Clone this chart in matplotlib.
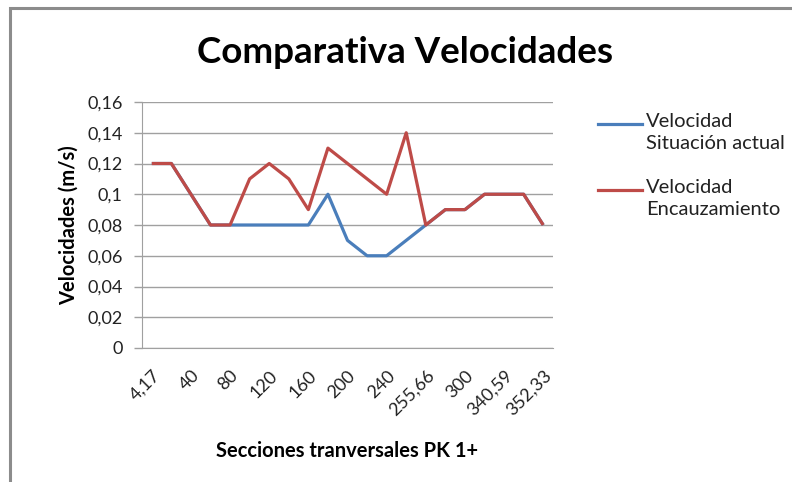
import matplotlib
matplotlib.use("Agg")
import matplotlib.pyplot as plt
from matplotlib.patches import Rectangle
from matplotlib.lines import Line2D

plt.rcParams['font.family'] = ['Lato', 'DejaVu Sans']

# Cross sections (PK 1+); only every other one is labelled on the axis
secciones = ["4,17", "20", "40", "60", "80", "100", "120", "140", "160", "180",
             "200", "220", "240", "250", "255,66", "280", "300", "320",
             "340,59", "350", "352,33"]
vel_actual = [0.12, 0.12, 0.10, 0.08, 0.08, 0.08, 0.08, 0.08, 0.08, 0.10,
              0.07, 0.06, 0.06, 0.07, 0.08, 0.09, 0.09, 0.10, 0.10, 0.10, 0.08]
vel_encauz = [0.12, 0.12, 0.10, 0.08, 0.08, 0.11, 0.12, 0.11, 0.09, 0.13,
              0.12, 0.11, 0.10, 0.14, 0.08, 0.09, 0.09, 0.10, 0.10, 0.10, 0.08]
yticks = [0, 0.02, 0.04, 0.06, 0.08, 0.10, 0.12, 0.14, 0.16]
series_names = ['Velocidad\nSituación actual', 'Velocidad\nEncauzamiento']
colors = ['#4A7EBB', '#BE4B48']

W, H = 792, 482
fig = plt.figure(figsize=(W / 100, H / 100), dpi=100)

def fx(px):
    return px / W

def fy(py):
    return 1 - py / H

# outer chart frame
fig.patches.append(Rectangle((fx(10), -0.05), 1.2, fy(8) + 0.05,
                             transform=fig.transFigure, fill=False,
                             edgecolor='#8c8c8c', linewidth=2.2))

ax = fig.add_axes([fx(142), fy(348), fx(553 - 142), (348 - 102) / H])

x = list(range(len(secciones)))
for vals, col in zip([vel_actual, vel_encauz], colors):
    ax.plot(x, vals, color=col, linewidth=2.3,
            solid_joinstyle='round', solid_capstyle='butt')

ax.set_xlim(-0.5, len(secciones) - 0.5)
ax.set_ylim(0, 0.16)
ax.set_yticks(yticks)
ax.set_yticklabels([("%g" % v).replace('.', ',') for v in yticks])
ax.set_xticks(x[::2])
ax.set_xticklabels(secciones[::2])
ax.tick_params(axis='x', length=0, pad=14)
ax.tick_params(axis='y', length=5.8, color='#a0a0a0', width=1, pad=8)
for lbl in ax.get_yticklabels():
    lbl.set_fontsize(13)
    lbl.set_color('#222222')
for lbl in ax.get_xticklabels():
    lbl.set_fontsize(13)
    lbl.set_color('#222222')
    lbl.set_rotation(45)
    lbl.set_rotation_mode('anchor')
    lbl.set_ha('right')
    lbl.set_va('top')

ax.grid(axis='y', color='#a0a0a0', linewidth=1)
ax.set_axisbelow(True)
for s in ['top', 'right']:
    ax.spines[s].set_visible(False)
ax.spines['left'].set_color('#a0a0a0')
ax.spines['bottom'].set_color('#a0a0a0')

ax.set_ylabel('Velocidades (m/s)', fontsize=14.5, fontweight='bold', labelpad=6)
ax.set_xlabel('Secciones tranversales PK 1+', fontsize=14.5, fontweight='bold', labelpad=16)

fig.text(fx(405), fy(52), 'Comparativa Velocidades', fontsize=26.5, fontweight='bold',
         ha='center', va='center')

# legend: line key beside the first row of each two-line entry
for name, col, ky in zip(series_names, colors, [124, 190]):
    fig.add_artist(Line2D([fx(598), fx(642)], [fy(ky), fy(ky)], color=col,
                          linewidth=2.3, transform=fig.transFigure))
    fig.text(fx(646), fy(ky - 11), name, fontsize=14.5, color='#222222',
             ha='left', va='top', linespacing=1.35)

fig.savefig('out.png', dpi=100)
